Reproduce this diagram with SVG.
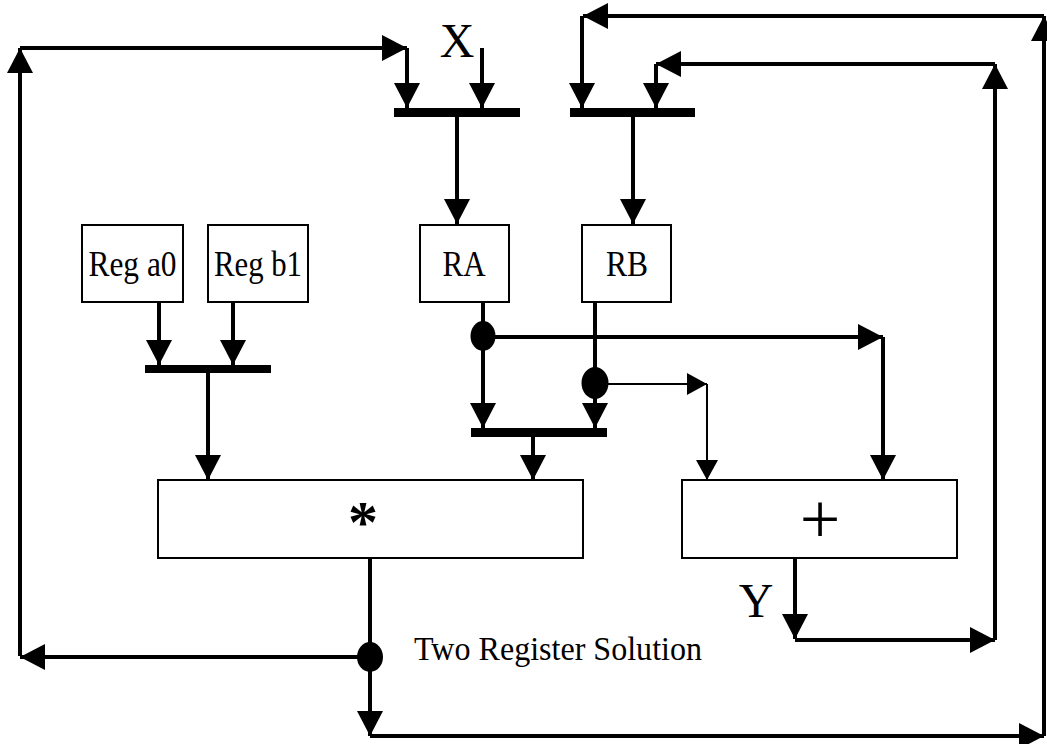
<svg xmlns="http://www.w3.org/2000/svg" width="1047" height="744" viewBox="0 0 1047 744">
<style>
.box{fill:#fff;stroke:#000;stroke-width:2}
.w{fill:none;stroke:#000;stroke-width:4;stroke-linecap:butt;stroke-linejoin:miter}
.wt{fill:none;stroke:#000;stroke-width:2}
.bar{fill:#000}
.dot{fill:#000}
.t{font-family:"Liberation Serif","Times New Roman",serif;fill:#000}
.lbl{font-size:35px;text-anchor:middle}
</style>
<defs>
<marker id="ah" markerUnits="userSpaceOnUse" viewBox="0 0 25 26" markerWidth="25" markerHeight="26" refX="25" refY="13" orient="auto">
<path d="M0,0 L25,13 L0,26 Z" fill="#000"/>
</marker>
<marker id="ahs" markerUnits="userSpaceOnUse" viewBox="0 0 20 22" markerWidth="20" markerHeight="22" refX="20" refY="11" orient="auto">
<path d="M0,0 L20,11 L0,22 Z" fill="#000"/>
</marker>
</defs>

<g id="connectors">
<!-- left feedback loop -->
<path class="w" d="M370,657 H20" marker-end="url(#ah)"/>
<path class="w" d="M20,656 V48" marker-end="url(#ah)"/>
<path class="w" d="M20,48 H407" marker-end="url(#ah)"/>
<path class="w" d="M407,48 V108" marker-end="url(#ah)"/>
<!-- X input -->
<path class="w" d="M482,48 V108" marker-end="url(#ah)"/>
<!-- bar1 to RA -->
<path class="w" d="M457,117 V224" marker-end="url(#ah)"/>
<!-- multiplier output outer loop -->
<path class="w" d="M370,558 V736" marker-end="url(#ah)"/>
<path class="w" d="M370,736 H1044" marker-end="url(#ah)"/>
<path class="w" d="M1044,736 V16" marker-end="url(#ah)"/>
<path class="w" d="M1044,16 H583" marker-end="url(#ah)"/>
<path class="w" d="M582,16 V108" marker-end="url(#ah)"/>
<!-- adder output Y loop -->
<path class="w" d="M795,558 V639" marker-end="url(#ah)"/>
<path class="w" d="M795,640 H995" marker-end="url(#ah)"/>
<path class="w" d="M995,640 V64" marker-end="url(#ah)"/>
<path class="w" d="M995,64 H656" marker-end="url(#ah)"/>
<path class="w" d="M656,64 V108" marker-end="url(#ah)"/>
<!-- bar2 to RB -->
<path class="w" d="M633,117 V224" marker-end="url(#ah)"/>
<!-- Reg a0 / Reg b1 to bar3 -->
<path class="w" d="M159,302 V365" marker-end="url(#ah)"/>
<path class="w" d="M233,302 V365" marker-end="url(#ah)"/>
<path class="w" d="M208,373 V480" marker-end="url(#ah)"/>
<!-- RA / RB to bar4 -->
<path class="w" d="M483,302 V428" marker-end="url(#ah)"/>
<path class="w" d="M595,302 V428" marker-end="url(#ah)"/>
<path class="w" d="M533,437 V480" marker-end="url(#ah)"/>
<!-- RA tap to adder -->
<path class="w" d="M483,337 H883" marker-end="url(#ah)"/>
<path class="w" d="M883,337 V480" marker-end="url(#ah)"/>
<!-- RB tap to adder -->
<path class="wt" d="M595,384 H707" marker-end="url(#ahs)"/>
<path class="wt" d="M707,384 V480" marker-end="url(#ahs)"/>
<!-- bars -->
<rect class="bar" x="394" y="108" width="126" height="9"/>
<rect class="bar" x="570" y="108" width="125" height="9"/>
<rect class="bar" x="145" y="365" width="126" height="8"/>
<rect class="bar" x="471" y="428" width="136" height="9"/>
<!-- junction dots -->
<ellipse class="dot" cx="483" cy="336" rx="12.5" ry="15"/>
<ellipse class="dot" cx="595" cy="383" rx="13.5" ry="16"/>
<ellipse class="dot" cx="370" cy="657" rx="13" ry="15"/>
</g>

<g id="reg-a0">
<rect class="box" x="82" y="225" width="101" height="77"/>
<text class="t lbl" x="132.5" y="276" textLength="88" lengthAdjust="spacingAndGlyphs">Reg a0</text>
</g>
<g id="reg-b1">
<rect class="box" x="208" y="225" width="100" height="77"/>
<text class="t lbl" x="258" y="276" textLength="88" lengthAdjust="spacingAndGlyphs">Reg b1</text>
</g>
<g id="ra">
<rect class="box" x="420" y="225" width="89" height="77"/>
<text class="t lbl" x="464" y="276" textLength="43" lengthAdjust="spacingAndGlyphs">RA</text>
</g>
<g id="rb">
<rect class="box" x="582" y="225" width="89" height="77"/>
<text class="t lbl" x="627" y="276" textLength="42" lengthAdjust="spacingAndGlyphs">RB</text>
</g>
<g id="multiplier">
<rect class="box" x="158" y="480" width="425" height="78"/>
<text class="t" x="363" y="542" font-size="60" font-weight="bold" text-anchor="middle">*</text>
</g>
<g id="adder">
<rect class="box" x="682" y="480" width="275" height="78"/>
<text class="t" x="820" y="543" font-size="72" text-anchor="middle">+</text>
</g>
<g id="labels">
<text class="t" x="457" y="57" font-size="48" text-anchor="middle">X</text>
<text class="t" x="756" y="617" font-size="48" text-anchor="middle">Y</text>
<text class="t" x="414" y="660" font-size="34" textLength="288" lengthAdjust="spacingAndGlyphs">Two Register Solution</text>
</g>
</svg>
